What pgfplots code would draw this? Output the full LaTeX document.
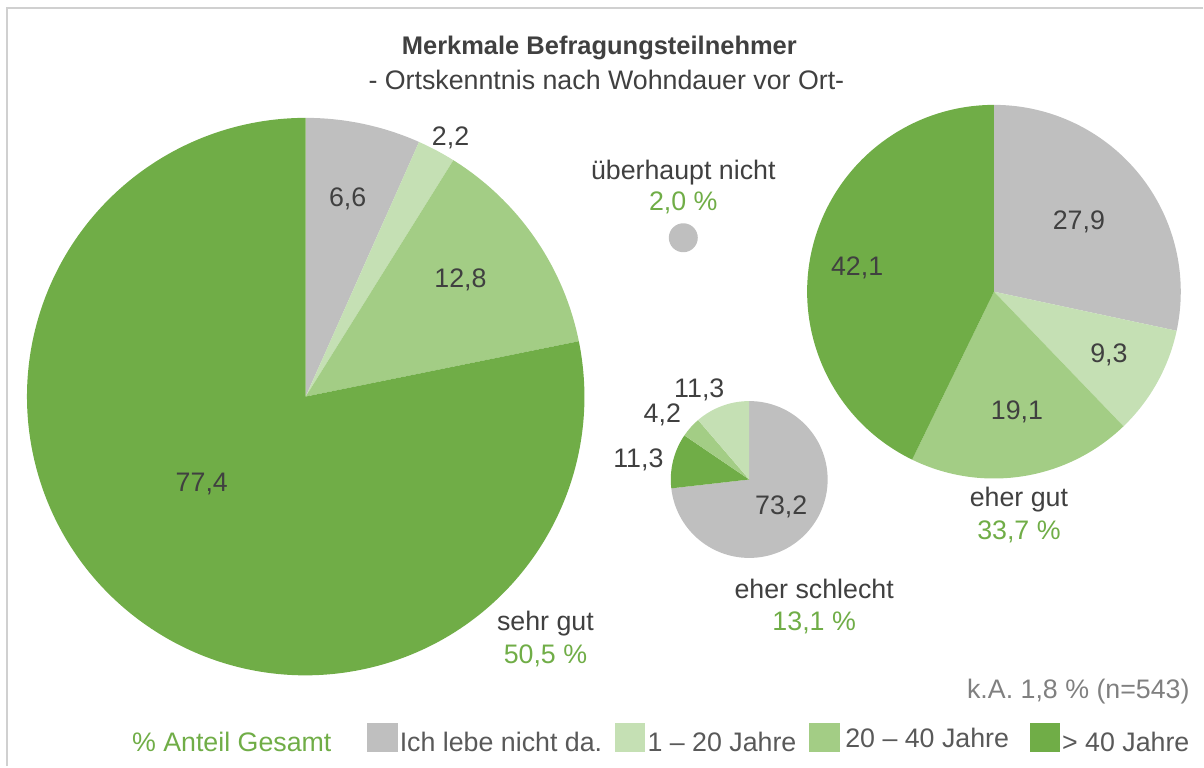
\documentclass[border=0pt]{standalone}
\usepackage{pgfplots}
\pgfplotsset{compat=1.18}
\usepackage{fontspec}
\setmainfont{Liberation Sans}
\definecolor{pgray}{HTML}{BFBFBF}
\definecolor{plight}{HTML}{C5E0B4}
\definecolor{pmid}{HTML}{A3CD85}
\definecolor{pdark}{HTML}{70AD47}
\definecolor{tdark}{HTML}{404040}
\definecolor{tleg}{HTML}{595959}
\definecolor{tka}{HTML}{808080}
\definecolor{framec}{HTML}{D0D0D0}

% #1 cx, #2 cy (axis units = px), #3 radius, #4 list value/colour (clockwise from 12 o'clock)
\newcommand{\pie}[4]{%
  \gdef\piesum{0}%
  \foreach \v/\c in {#4}{\pgfmathsetmacro\tmp{\piesum+\v}\xdef\piesum{\tmp}}%
  \gdef\pieang{90}%
  \foreach \v/\c in {#4}{%
    \pgfmathsetmacro\ea{\pieang-\v/\piesum*360}%
    \fill[\c] (axis cs:#1,#2) -- ++(\pieang:#3bp) arc[start angle=\pieang,end angle=\ea,radius=#3bp] -- cycle;%
    \xdef\pieang{\ea}%
  }%
}

\begin{document}
\begin{tikzpicture}[font=\fontsize{26.8bp}{32bp}\selectfont,
  lab/.style={text height=19.2bp, text depth=0pt, inner sep=0pt, tdark}]
\begin{axis}[scale only axis, width=1204bp, height=767bp,
  xmin=0, xmax=1204, ymin=0, ymax=767, hide axis, clip=false]
\pgfplotsextra{
  \path (axis cs:0,0) rectangle (axis cs:1204,767);
  \draw[framec, line width=2.5bp] (axis cs:7,0) -- (axis cs:7,759) -- (axis cs:1204,759);
  % sehr gut
  \pie{306}{370}{279}{6.6/pgray,2.2/plight,12.8/pmid,77.4/pdark}
  % eher gut
  \pie{995}{475}{187}{27.9/pgray,9.3/plight,19.1/pmid,42.1/pdark}
  % eher schlecht
  \pie{750}{287}{78.5}{73.2/pgray,11.3/pdark,4.2/pmid,11.3/plight}
  % ueberhaupt nicht
  \pie{684}{529}{14.5}{100/pgray}
  % legend keys
  \fill[pgray]  (axis cs:367,14) rectangle (axis cs:398,43);
  \fill[plight] (axis cs:616,14) rectangle (axis cs:646,43);
  \fill[pmid]   (axis cs:810,14) rectangle (axis cs:841,43);
  \fill[pdark]  (axis cs:1031,14) rectangle (axis cs:1061,43);
}
% titles
\node[lab, text height=18.3bp, font=\fontsize{25.5bp}{30bp}\selectfont\bfseries] at (axis cs:600,722) {Merkmale Befragungsteilnehmer};
\node[lab] at (axis cs:607,687) {- Ortskenntnis nach Wohndauer vor Ort-};
% data labels
\node[lab] at (axis cs:348,570) {6,6};
\node[lab] at (axis cs:451,630.5) {2,2};
\node[lab] at (axis cs:461,489) {12,8};
\node[lab] at (axis cs:202,284.5) {77,4};
\node[lab] at (axis cs:546,145) {sehr gut};
\node[lab, pdark] at (axis cs:546,112) {50,5 \%};
\node[lab] at (axis cs:684,597) {überhaupt nicht};
\node[lab, pdark] at (axis cs:684,566) {2,0 \%};
\node[lab] at (axis cs:700,379) {11,3};
\node[lab] at (axis cs:663,354) {4,2};
\node[lab] at (axis cs:639,309) {11,3};
\node[lab] at (axis cs:782,262) {73,2};
\node[lab] at (axis cs:815,177) {eher schlecht};
\node[lab, pdark] at (axis cs:815,145) {13,1 \%};
\node[lab] at (axis cs:1080,547) {27,9};
\node[lab] at (axis cs:1110,414) {9,3};
\node[lab] at (axis cs:1018,357) {19,1};
\node[lab] at (axis cs:858,501) {42,1};
\node[lab] at (axis cs:1020,270) {eher gut};
\node[lab, pdark] at (axis cs:1020,237) {33,7 \%};
\node[lab, tka, anchor=east] at (axis cs:1191,77) {k.A. 1,8 \% (n=543)};
% legend
\node[inner sep=0pt, anchor=base west, pdark] at (axis cs:132,15) {\% Anteil Gesamt};
\node[inner sep=0pt, anchor=base west, tleg] at (axis cs:400,15) {Ich lebe nicht da.};
\node[inner sep=0pt, anchor=base west, tleg] at (axis cs:648,15) {1 -- 20 Jahre};
\node[inner sep=0pt, anchor=base west, tleg] at (axis cs:846,19) {20 -- 40 Jahre};
\node[inner sep=0pt, anchor=base west, tleg] at (axis cs:1063,15) {> 40 Jahre};
\end{axis}
\end{tikzpicture}
\end{document}
